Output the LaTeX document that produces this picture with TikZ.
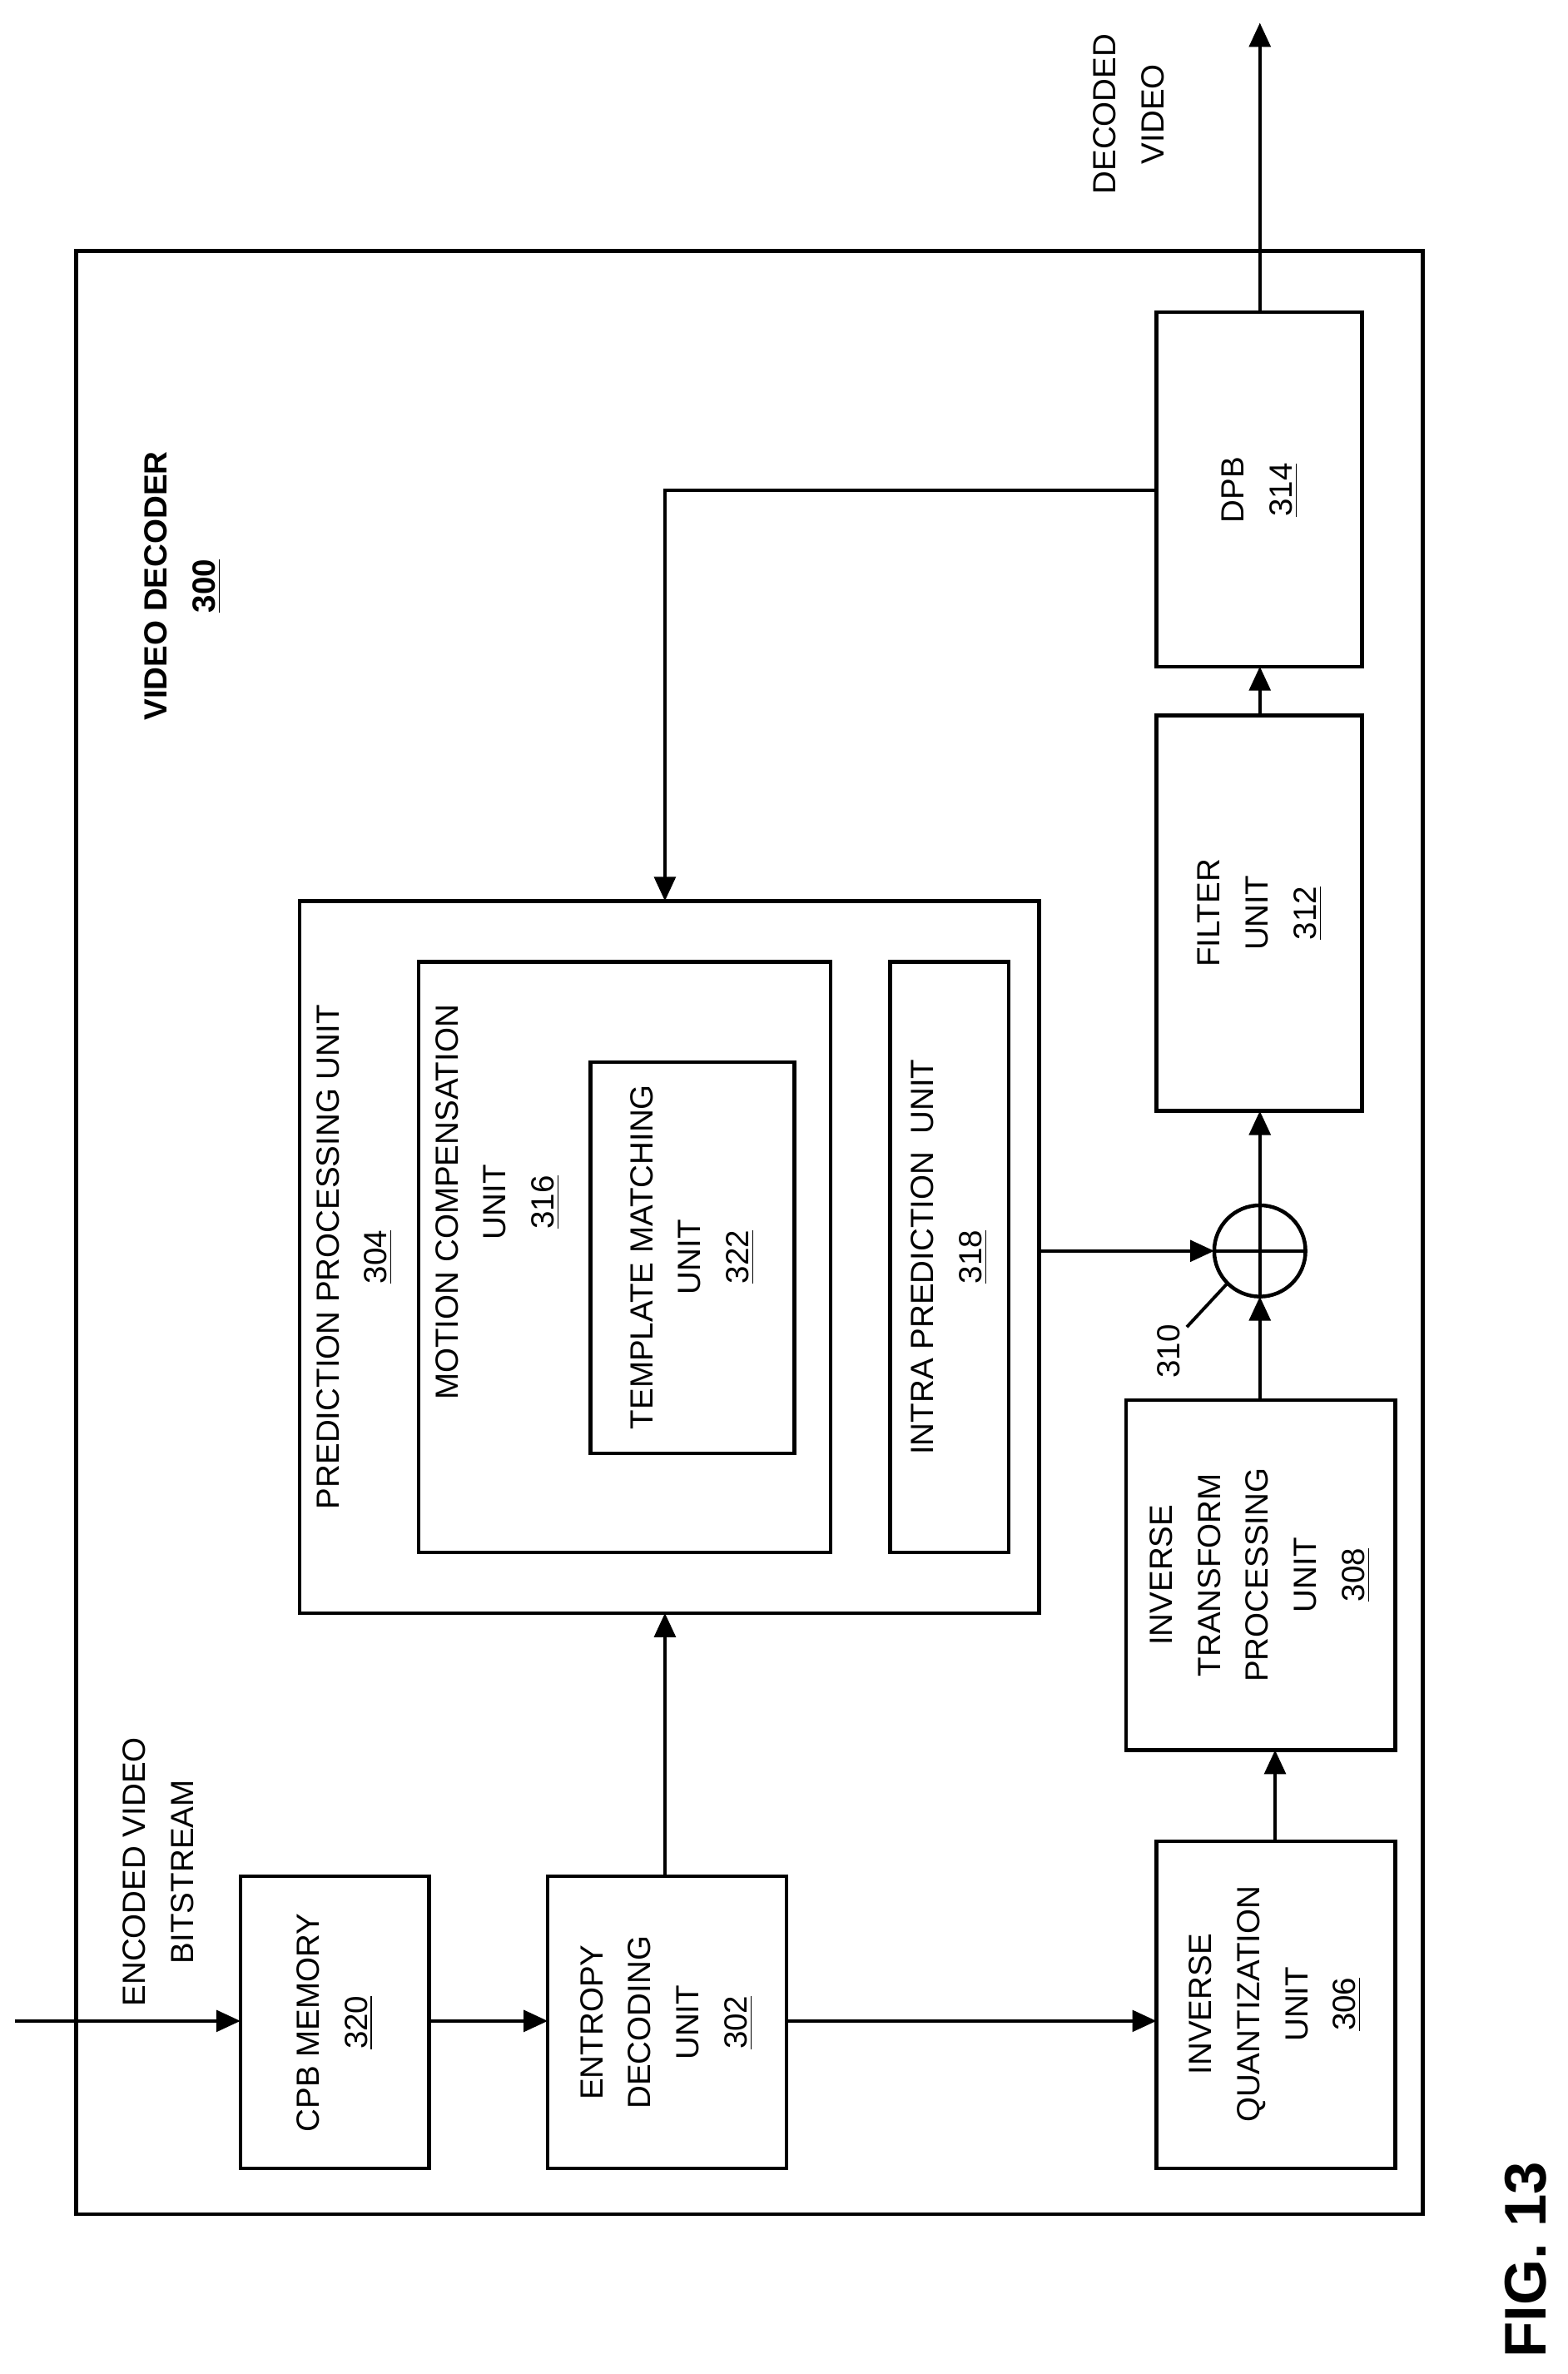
\documentclass[tikz,border=0pt]{standalone}
\usepackage{fontspec}
\setmainfont{Liberation Sans}
\usetikzlibrary{arrows.meta}

\begin{document}
\begin{tikzpicture}[x=0.02cm,y=-0.02cm,line width=1.2pt,>={Triangle[length=9pt,width=8pt]},
    txt/.style={rotate=90,align=center,font=\fontsize{12}{18}\selectfont},
    unit/.style={draw,line width=1.4pt}]
  \useasboundingbox (0,0) rectangle (1030,1560);

  % frame
  \draw[unit] (50,165) rectangle (935,1455);
  \node[txt,font=\fontsize{12}{18}\selectfont\bfseries] (vd) at (120,385) {VIDEO DECODER\\\underline{300}};

  % boxes
  \draw[unit] (158,1233) rectangle (282,1425);
  \node[txt] (cpb) at (220,1329) {CPB MEMORY\\\underline{320}};
  \draw[unit] (360,1233) rectangle (517,1425);
  \node[txt] (ent) at (438,1329) {ENTROPY\\DECODING\\UNIT\\\underline{302}};
  \draw[unit] (760,1210) rectangle (917,1425);
  \node[txt] (iq) at (838,1317) {INVERSE\\QUANTIZATION\\UNIT\\\underline{306}};
  \draw[unit] (740,920) rectangle (917,1150);
  \node[txt] (it) at (828,1035) {INVERSE\\TRANSFORM\\PROCESSING\\UNIT\\\underline{308}};
  \draw[unit] (760,470) rectangle (895,730);
  \node[txt] (flt) at (828,600) {FILTER\\UNIT\\\underline{312}};
  \draw[unit] (760,205) rectangle (895,438);
  \node[txt] (dpb) at (828,322) {DPB\\\underline{314}};

  \draw[unit] (197,592) rectangle (683,1060);
  \node[txt] (pp) at (233,826) {PREDICTION PROCESSING UNIT\\\underline{304}};
  \draw[unit] (275,632) rectangle (546,1020);
  \node[txt] (mc) at (327,790) {MOTION COMPENSATION\\UNIT\\\underline{316}};
  \draw[unit] (388,698) rectangle (522,955);
  \node[txt] (tm) at (455,826) {TEMPLATE MATCHING\\UNIT\\\underline{322}};
  \draw[unit] (585,632) rectangle (663,1020);
  \node[txt] (ip) at (624,826) {INTRA PREDICTION~~UNIT\\\underline{318}};

  % adder
  \coordinate (add) at (828,822);
  \draw[line width=1.4pt] (add) circle (30);
  \draw (798,822) -- (858,822) (828,792) -- (828,852);
  \node[txt] (l310) at (768,888) {310};
  \draw (780,872) -- (806,844);

  % labels
  \node[txt] (in) at (104,1230) {ENCODED VIDEO\\BITSTREAM};
  \node[txt] (out) at (742,75) {DECODED\\VIDEO};
  \node[rotate=90,inner sep=0pt,font=\fontsize{22}{26}\selectfont\bfseries] (fig) at (1003,1485) {FIG. 13};

  % connectors
  \draw[->] (10,1328) -- (158,1328);
  \draw[->] (282,1328) -- (360,1328);
  \draw[->] (517,1328) -- (760,1328);
  \draw[->] (437,1233) -- (437,1060);
  \draw[->] (838,1210) -- (838,1150);
  \draw[->] (828,920) -- (828,852);
  \draw[->] (683,822) -- (798,822);
  \draw[->] (828,792) -- (828,730);
  \draw[->] (828,470) -- (828,438);
  \draw[->] (828,205) -- (828,15);
  \draw[->] (760,322) -- (437,322) -- (437,592);
\end{tikzpicture}
\end{document}
